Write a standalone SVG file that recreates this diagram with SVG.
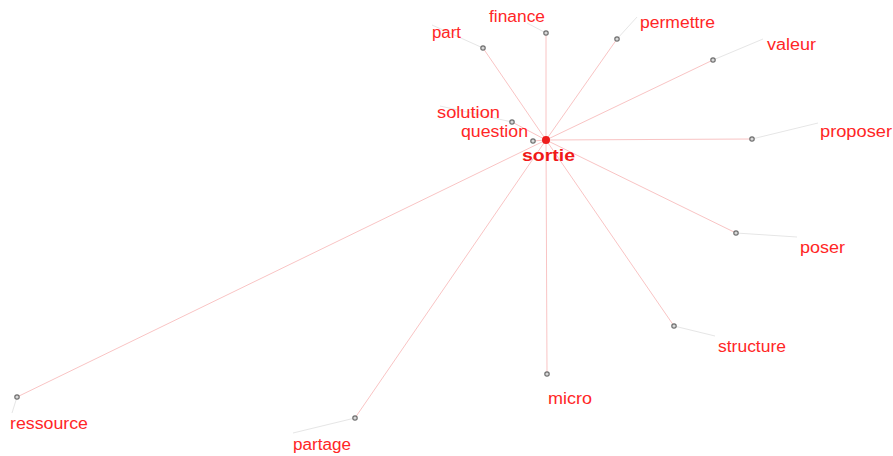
<svg xmlns="http://www.w3.org/2000/svg" width="893" height="456" viewBox="0 0 893 456">
<style>
.e{stroke:#f9c4c4;stroke-width:1;fill:none}
.l{stroke:#e6e6e6;stroke-width:1;fill:none}
.d{fill:#d8d8d8;stroke:#707070;stroke-width:1.2}
.t{font-family:"Liberation Sans",Arial,sans-serif;font-size:16px;fill:#ff2626}
.c{font-weight:bold;fill:#f01818}
</style>
<rect width="893" height="456" fill="#ffffff"/>
<g id="connectors">
<line class="e" x1="546" y1="140" x2="483" y2="48"/>
<line class="e" x1="546" y1="140" x2="546" y2="33"/>
<line class="e" x1="546" y1="140" x2="617" y2="39"/>
<line class="e" x1="546" y1="140" x2="713" y2="60"/>
<line class="e" x1="546" y1="140" x2="752" y2="139"/>
<line class="e" x1="546" y1="140" x2="736" y2="233"/>
<line class="e" x1="546" y1="140" x2="674" y2="326"/>
<line class="e" x1="546" y1="140" x2="547" y2="374"/>
<line class="e" x1="546" y1="140" x2="355" y2="418"/>
<line class="e" x1="546" y1="140" x2="17" y2="397"/>
<line class="e" x1="546" y1="140" x2="512" y2="122"/>
<line class="e" x1="546" y1="140" x2="533" y2="141"/>
<line class="l" x1="483" y1="48" x2="432" y2="25"/>
<line class="l" x1="546" y1="33" x2="527" y2="23"/>
<line class="l" x1="617" y1="39" x2="637" y2="17"/>
<line class="l" x1="713" y1="60" x2="763" y2="39"/>
<line class="l" x1="752" y1="139" x2="818" y2="123"/>
<line class="l" x1="736" y1="233" x2="797" y2="237"/>
<line class="l" x1="674" y1="326" x2="715" y2="336"/>
<line class="l" x1="355" y1="418" x2="293" y2="433"/>
<line class="l" x1="17" y1="397" x2="12" y2="413"/>
<line class="l" x1="512" y1="122" x2="440" y2="106"/>
</g>
<g id="sortie"><circle cx="546" cy="140" r="4" fill="#ee1c1c"/><text class="t c" x="522" y="161" textLength="53" lengthAdjust="spacingAndGlyphs">sortie</text></g>
<g id="part"><circle class="d" cx="483" cy="48" r="2.2"/><text class="t" x="432" y="38" textLength="29" lengthAdjust="spacingAndGlyphs">part</text></g>
<g id="finance"><circle class="d" cx="546" cy="33" r="2.2"/><text class="t" x="489" y="22" textLength="56" lengthAdjust="spacingAndGlyphs">finance</text></g>
<g id="permettre"><circle class="d" cx="617" cy="39" r="2.2"/><text class="t" x="640" y="28" textLength="75" lengthAdjust="spacingAndGlyphs">permettre</text></g>
<g id="valeur"><circle class="d" cx="713" cy="60" r="2.2"/><text class="t" x="767" y="50" textLength="49" lengthAdjust="spacingAndGlyphs">valeur</text></g>
<g id="proposer"><circle class="d" cx="752" cy="139" r="2.2"/><text class="t" x="820" y="137" textLength="72" lengthAdjust="spacingAndGlyphs">proposer</text></g>
<g id="poser"><circle class="d" cx="736" cy="233" r="2.2"/><text class="t" x="800" y="253" textLength="45" lengthAdjust="spacingAndGlyphs">poser</text></g>
<g id="structure"><circle class="d" cx="674" cy="326" r="2.2"/><text class="t" x="718" y="352" textLength="68" lengthAdjust="spacingAndGlyphs">structure</text></g>
<g id="micro"><circle class="d" cx="547" cy="374" r="2.2"/><text class="t" x="548" y="404" textLength="44" lengthAdjust="spacingAndGlyphs">micro</text></g>
<g id="partage"><circle class="d" cx="355" cy="418" r="2.2"/><text class="t" x="293" y="450" textLength="58" lengthAdjust="spacingAndGlyphs">partage</text></g>
<g id="ressource"><circle class="d" cx="17" cy="397" r="2.2"/><text class="t" x="10" y="429" textLength="78" lengthAdjust="spacingAndGlyphs">ressource</text></g>
<g id="solution"><circle class="d" cx="512" cy="122" r="2.2"/><text class="t" x="437" y="118" textLength="63" lengthAdjust="spacingAndGlyphs">solution</text></g>
<g id="question"><circle class="d" cx="533" cy="141" r="2.2"/><text class="t" x="461" y="137" textLength="67" lengthAdjust="spacingAndGlyphs">question</text></g>
</svg>
